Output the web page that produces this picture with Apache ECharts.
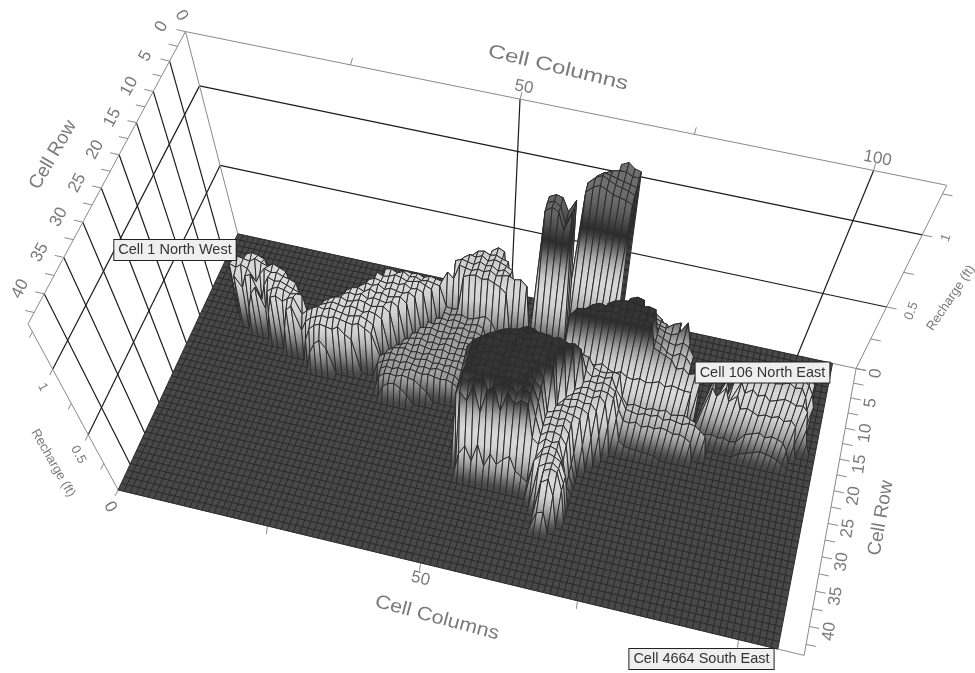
<!DOCTYPE html>
<html><head><meta charset="utf-8">
<style>html,body{margin:0;padding:0;background:#fff}#c{width:975px;height:673px}#c canvas{filter:blur(.4px)}</style>
<script src="https://cdn.jsdelivr.net/npm/echarts@6/dist/echarts.min.js"></script>
</head><body><div id="c"></div>
<script>
// ---- axis ticks ----
const colMajor = [50, 100];
const colMinor = [25, 75];
const rowMajor = [0, 5, 10, 15, 20, 25, 30, 35, 40];
const rowMinor = [2.5, 7.5, 12.5, 17.5, 22.5, 27.5, 32.5, 37.5, 42.5];
const zMajor = [0, 0.5, 1];
const zMinor = [0.25, 0.75, 1.25];
const cornerNotes = ['Cell 1 North West', 'Cell 106 North East', 'Cell 4664 South East'];
// ---- recharge in hundredths of a foot; each row lists runs [firstColumn, v, v, ...]; unlisted cells are 0 ----
const rechargeRows = [
/*0*/ [[65,105,107,104,103]],
/*1*/ [[63,102,104,105,105,103,103]],
/*2*/ [[62,103,106,105,104,103,102,101]],
/*3*/ [[47,44,47,45],[61,102,106,108,106,104,103,102,100]],
/*4*/ [[44,42,46,47,45,46,44,43],[61,100,104,106,104,102,101,100,98]],
/*5*/ [[43,44,47,46,48,45,47,46,44,42],[56,97,99,98,90,98]],
/*6*/ [[42,45,47,46,45,48,46,47,44,46,43],[56,97,99,96,86,97]],
/*7*/ [[33,33,34,33,34,32,34,33,32],[41,40,36,47,46,45,47,46,48,45,46,47,45,46,42],[56,96,99,97,86,98]],
/*8*/ [[31,37,38,36,38,35,36,34,35,34,33],[41,18,17,18,44,46,47,45,46,44,42,38]],
/*9*/ [[30,38,36,37,39,38,36,37,38,36,34],[41,18,17,18,19,17,18,20,22,18,10]],
/*10*/[[29,36,38,37,36,38,37,39,36,37,35],[40,17,18,17,19,18,17,18,19,17],[73,46,55,57,54,48]],
/*11*/[[9,40,42,41,39],[28,35,38,37,39,36,38,37,36,38,35],[39,18,17,19,18,17,18,19,17,18,16],[72,52,58,60,59,57,56,50]],
/*12*/[[7,38,42,41,40,43,41,39,42,40,38],[26,34,37,38,36,39,37,38,36,37,38,34],[38,17,18,19,17,18,17,19,18,17,18,16],[72,55,58,60,61,59,58,62,64],[92,42,48,50,49,51,48,50,47,45,40]],
/*13*/[[7,40,38,41,39,30,37,42,40,41,39,38,36],[25,33,36,38,37,39,36,38,37,36,38,35],[37,16,18,17,19,18,17,18,19,17,18,17,16],[71,78,80,79,60,58,62,60,59,61,70,56],[91,44,50,52,50,48,51,49,50,47,44,38,28]],
/*14*/[[8,36,28,38,40,22,34,41,39,40,38,36,34],[23,32,35,37,38,36,37,39,38,36,37,38,34],[36,15,17,18,19,17,18,17,19,18,17,18,17,15],[68,76,79,80,81,80,79,80,79,62,60,58,57,60,58,52],[89,40,46,46,44,46,47,45,46,48,45,46,40,30,14]],
/*15*/[[10,18,30,36,20,35,38,40,39,37,38,38],[22,30,34,36,38,37,36,38,37,35,37,36,33],[35,14,16,18,17,19,18,17,18,19,17,18,17,18,15],[65,74,78,80,79,81,80,79,80,81,79,66,62,60,56,54,57,55,50],[86,46,26,48,24,46,38,42,38,40,36,38,40,39,37,38,34,20,8]],
/*16*/[[14,22,36,38,35,38,40],[20,28,32,35,37,36,38,37,36,35,36,37,35,32],[34,14,17,18,19,17,18,17,19,18,17,18,17,18,16,14],[63,72,78,79,80,79,80,81,80,79,80,79,80,79,62,60,58,56,50,52,48,50,44],[86,42,36,44,34,40,30,32,30,28,30,29,31,28,30,26,10]],
/*17*/[[17,18,34,38],[20,20,28,32,34,36,35,37,36,35,34,36,33,30],[33,13,16,18,17,19,18,17,18,19,17,18,17,18,17,16,12],[62,50,52,48,50,46,44,45,47,44,42,44,41,40,42,40,41,43,40,42,41,40,40],[86,10,8,10,8,9,7,8,16,18,20,17,19,18,16,10]],
/*18*/[[21,18,28,32,34,33,32,35,30,27],[33,12,15,17,18,17,19,18,17,18,17,19,18,17,16,11],[60,56,58,60,62,60,58,56,55,48,46,46,48,47,30,24,26,25,24,26,25,27,24,25,26,24,22],[93,4,6,8,10,9,8,6,3]],
/*19*/[[22,14,22,26,20],[34,14,17,16,18,17,19,18,17,18,17,16,17,15,12],[59,66,68,70,66,68,65,64,62,50,46,48,47,49,40,34,26,25,24,26,25,27,24,26,25,24,26,25,22,18]],
/*20*/[[34,12,16,17,16,18,17,16,12,8],[57,76,78,77,74,75,72,74,72,73,70,46,48,47,49,47,44,30,22,21,23,20,22,21,23,22,20,21,19,16]],
/*21*/[[35,10,14,15,12,7],[54,76,78,79,80,78,79,81,80,79,80,78,76,44,47,48,46,48,47,44,28,10,6,5,5,4,4,3]],
/*22*/[[52,75,78,80,79,81,80,79,80,81,79,80,78,77,42,46,48,47,46,49,44,26]],
/*23*/[[50,70,76,79,80,81,79,80,78,80,79,81,80,79,78,40,46,47,48,46,47,42,22]],
/*24*/[[50,68,76,78,80,79,81,80,79,80,79,80,81,79,74,45,47,46,48,47,44,24]],
/*25*/[[50,66,75,78,79,81,80,78,80,81,79,80,78,70,44,46,48,47,46,44,22]],
/*26*/[[50,64,74,79,80,79,81,80,78,80,79,81,72,68,45,47,46,48,45,20]],
/*27*/[[50,62,75,78,80,81,79,80,79,81,80,78,74,62,44,47,46,48,42,16]],
/*28*/[[50,60,74,72,79,78,66,80,76,79,70,78,72,56,42,46,47,45,38,12]],
/*29*/[[51,68,62,76,55,74,78,60,76,68,72,70,44,40,46,44,46,30,8]],
/*30*/[[51,22,30,18,34,16,28,20,26,30,18,14,10,34,44,47,45,36,6]],
/*31*/[[63,38,44,47,45,42,30]],
/*32*/[[64,40,44,46,42,30]],
/*33*/[[65,44,47,45,30]],
/*34*/[[65,40,44,30]],
/*35*/[[65,18,20]],
/*36*/[],/*37*/[],/*38*/[],/*39*/[],/*40*/[],/*41*/[],/*42*/[],/*43*/[]
];
// ---- colour ramp by recharge ----
const rampZ = [0,.03,.08,.13,.2,.3,.4,.5,.58,.66,.72,.77,.82,.88,.97,1.05];
const rampGrey = [72,78,104,135,172,208,218,200,165,110,66,44,58,78,100,112];

// ---- camera calibration: axis-box corners, [col,row,recharge, screenX, screenY] ----
const BOX = {col:110, row:44, z:1.3};
const SURF = {col:106, row:44};
const calib = [
 [0,0,0,237,235],[110,0,0,856,369],[110,44,0,804,655],[0,44,0,118,490],
 [0,0,1.3,186,31],[110,0,1.3,947,185],[0,44,1.3,28,323],
 [0,0,.5,221,165],[0,0,1,200,85],[110,0,.5,887,308],[110,0,1,922,236],
 [0,44,.5,88,435],[0,44,1,53,370],[100,0,0,798,353],[100,0,1.3,874,170],
 [106,0,0,832,364],[106,44,0,778,649],[50,0,1.3,518,100]
];
function solve(A,b){const n=b.length;A=A.map((r,i)=>r.concat(b[i]));
 for(let i=0;i<n;i++){let p=i;for(let k=i+1;k<n;k++)if(Math.abs(A[k][i])>Math.abs(A[p][i]))p=k;
  [A[i],A[p]]=[A[p],A[i]];
  for(let k=i+1;k<n;k++){const f=A[k][i]/A[i][i];for(let j=i;j<=n;j++)A[k][j]-=f*A[i][j];}}
 const x=new Array(n);for(let i=n-1;i>=0;i--){let s=A[i][n];for(let j=i+1;j<n;j++)s-=A[i][j]*x[j];x[i]=s/A[i][i];}
 return x;}
const P=(function(){const N=Array.from({length:11},()=>new Array(11).fill(0)),B=new Array(11).fill(0);
 function add(r,t){for(let i=0;i<11;i++){B[i]+=r[i]*t;for(let j=0;j<11;j++)N[i][j]+=r[i]*r[j];}}
 calib.forEach(([c,r,z,u,v])=>{const X=c/100,Y=r/40,Z=z,U=u/1000,V=v/1000;
  add([X,Y,Z,1,0,0,0,0,-U*X,-U*Y,-U*Z],U);add([0,0,0,0,X,Y,Z,1,-V*X,-V*Y,-V*Z],V);});
 return solve(N,B);})();
function proj(c,r,z){const X=c/100,Y=r/40,w=P[8]*X+P[9]*Y+P[10]*z+1;
 return [1000*(P[0]*X+P[1]*Y+P[2]*z+P[3])/w,1000*(P[4]*X+P[5]*Y+P[6]*z+P[7])/w];}
// camera position, for back-to-front drawing
const cam=solve([[P[0],P[1],P[2]],[P[4],P[5],P[6]],[P[8],P[9],P[10]]],[-P[3],-P[7],-1]);
const camCol=cam[0]*100;

// ---- expand runs ----
const NC=106,NR=44;
const H=Array.from({length:NR},()=>new Array(NC).fill(0));
rechargeRows.forEach((runs,r)=>runs.forEach(run=>{for(let i=1;i<run.length;i++){const c=run[0]+i-1;if(c<NC)H[r][c]=run[i]/100;}}));
function grey(z){let i=0;while(i<rampZ.length-2&&z>rampZ[i+1])i++;
 const t=Math.max(0,Math.min(1,(z-rampZ[i])/(rampZ[i+1]-rampZ[i])));
 const g=Math.round(rampGrey[i]+t*(rampGrey[i+1]-rampGrey[i]));return 'rgb('+g+','+g+','+g+')';}
const quads=[];
for(let r=0;r<NR-1;r++){
 const cols=[];for(let c=0;c<NC-1;c++)cols.push(c);
 cols.sort((a,b)=>Math.abs(b-camCol)-Math.abs(a-camCol));
 cols.forEach(c=>quads.push([c,r,H[r][c],H[r][c+1],H[r+1][c+1],H[r+1][c]]));
}
const sx=SURF.col/(NC-1),sy=SURF.row/(NR-1);
function renderQuad(params,api){
 const c=api.value(0),r=api.value(1),z=[api.value(2),api.value(3),api.value(4),api.value(5)];
 const X=[c*sx,(c+1)*sx,(c+1)*sx,c*sx],Y=[r*sy,r*sy,(r+1)*sy,(r+1)*sy];
 const pts=z.map((v,i)=>proj(X[i],Y[i],v));
 const lo=Math.min.apply(null,z),hi=Math.max.apply(null,z);
 let fill;
 if(hi-lo<.025){fill=grey((lo+hi)/2);}
 else{
  const a=proj((c+.5)*sx,(r+.5)*sy,lo),b=proj((c+.5)*sx,(r+.5)*sy,hi),stops=[];
  const inner=rampZ.filter(v=>v>lo&&v<hi);
  [lo].concat(inner,[hi]).forEach(v=>stops.push({offset:(v-lo)/(hi-lo),color:grey(v)}));
  fill=new echarts.graphic.LinearGradient(a[0],a[1],b[0],b[1],stops,true);
 }
 return {type:'polygon',shape:{points:pts},silent:true,style:{fill:fill,stroke:'#2b2b2b',lineWidth:1}};
}
// ---- box lines and ticks ----
const GREY='#8a8a8a',INK='#1c1c1c',LAB='#7a7a7a';
const lines=[];
function L(a,b,col,w){lines.push([a,b,col,w]);}
colMajor.forEach(c=>L([c,0,0],[c,0,BOX.z],INK,1.2));
[.5,1].forEach(z=>{L([0,0,z],[BOX.col,0,z],INK,1.2);L([0,0,z],[0,BOX.row,z],INK,1.2);});
rowMajor.filter(r=>r>0).forEach(r=>L([0,r,0],[0,r,BOX.z],INK,1.2));
L([0,0,0],[0,0,BOX.z],GREY,1);L([0,0,BOX.z],[BOX.col,0,BOX.z],GREY,1);L([0,0,BOX.z],[0,BOX.row,BOX.z],GREY,1);
L([0,BOX.row,0],[0,BOX.row,BOX.z],GREY,1);L([BOX.col,0,0],[BOX.col,0,BOX.z],GREY,1);
L([0,0,0],[BOX.col,0,0],GREY,1);L([BOX.col,0,0],[BOX.col,BOX.row,0],GREY,1);L([0,BOX.row,0],[BOX.col,BOX.row,0],GREY,1);
const ticks=[];
rowMajor.concat(rowMinor).forEach(r=>{ticks.push([[0,r,BOX.z],[-9,-2]]);ticks.push([[BOX.col,r,0],[10,2]]);});
zMajor.concat(zMinor).forEach(z=>{ticks.push([[BOX.col,0,z],[10,2]]);ticks.push([[0,BOX.row,z],[-3,6]]);});
colMajor.concat(colMinor).forEach(c=>{ticks.push([[c,0,BOX.z],[2,-7]]);ticks.push([[c,BOX.row,0],[-1,8]]);});
function renderLine(params,api){
 const l=lines[api.value(0)],a=proj.apply(null,l[0]),b=proj.apply(null,l[1]);
 return {type:'line',silent:true,shape:{x1:a[0],y1:a[1],x2:b[0],y2:b[1]},style:{stroke:l[2],lineWidth:l[3]}};
}
function renderTick(params,api){
 const t=ticks[api.value(0)],a=proj.apply(null,t[0]);
 return {type:'line',silent:true,shape:{x1:a[0],y1:a[1],x2:a[0]+t[1][0],y2:a[1]+t[1][1]},style:{stroke:GREY,lineWidth:1}};
}
// ---- text ----
const texts=[];
const deg=Math.PI/180;
function T(p,off,s,rot,font,col){const a=proj.apply(null,p);texts.push({x:a[0]+off[0],y:a[1]+off[1],s:s,rot:rot*deg,font:font,col:col||LAB,sx:1});}
const F1='17px "Liberation Sans"',F2='19px "Liberation Sans"';
const N1='13px "Liberation Sans Narrow","Liberation Sans"';
rowMajor.forEach(r=>{T([0,r,BOX.z],[-24,-5],String(r),62,F1);});
rowMajor.forEach(r=>{T([BOX.col,r,0],[20,5],String(r),82,F1);});
T([0,0,BOX.z],[-4,-16],'0',-60,F1);
colMajor.forEach(c=>T([c,0,BOX.z],[4,-12],String(c),-11,F1));
T([50,BOX.row,0],[0,16],'50',-13,F1);
T([0,BOX.row,1],[-10,18],'1',-62,N1);T([0,BOX.row,.5],[-10,20],'0.5',-62,N1);T([0,BOX.row,0],[-8,17],'0',-62,F1);
T([BOX.col,0,.5],[25,4],'0.5',70,N1);T([BOX.col,0,1],[24,3],'1',70,N1);
const staticTexts=[
 {x:558,y:68,s:'Cell Columns',rot:-13.5*deg,font:F2,col:LAB,sx:1.27},
 {x:437,y:618,s:'Cell Columns',rot:-15*deg,font:F2,col:LAB,sx:1.13},
 {x:53,y:155,s:'Cell Row',rot:60*deg,font:F2,col:LAB,sx:1},
 {x:881,y:518,s:'Cell Row',rot:80*deg,font:F2,col:LAB,sx:1},
 {x:53,y:463,s:'Recharge (ft)',rot:-60*deg,font:N1,col:LAB,sx:1},
 {x:951,y:298,s:'Recharge (ft)',rot:56*deg,font:N1,col:LAB,sx:1}
];
const allTexts=texts.concat(staticTexts);
function renderText(params,api){
 const t=allTexts[api.value(0)];
 return {type:'text',silent:true,x:t.x,y:t.y,rotation:t.rot,scaleX:t.sx,style:{text:t.s,fill:t.col,font:t.font,align:'center',verticalAlign:'middle'}};
}
const notePos=[[175,250],[762.5,372.5],[701.5,659]];
function renderNote(params,api){
 const i=api.value(0);
 return {type:'text',silent:true,x:notePos[i][0],y:notePos[i][1],style:{text:cornerNotes[i],fill:'#333',font:'14.5px "Liberation Sans"',align:'center',verticalAlign:'middle',backgroundColor:'#efefef',borderColor:'#222',borderWidth:1,padding:[3,4,2,4]}};
}
const idx=n=>Array.from({length:n},(_,i)=>[i]);
const chart=echarts.init(document.getElementById('c'),null,{renderer:'canvas'});
chart.setOption({
 animation:false,backgroundColor:'#fff',
 series:[
  {type:'custom',coordinateSystem:'none',renderItem:renderLine,data:idx(lines.length),z:1,silent:true,progressive:0,animation:false},
  {type:'custom',coordinateSystem:'none',renderItem:renderTick,data:idx(ticks.length),z:1,silent:true,progressive:0,animation:false},
  {type:'custom',coordinateSystem:'none',renderItem:renderQuad,data:quads,dimensions:['c','r','a','b','d','e'],z:2,silent:true,progressive:0,animation:false},
  {type:'custom',coordinateSystem:'none',renderItem:renderText,data:idx(allTexts.length),z:3,silent:true,progressive:0,animation:false},
  {type:'custom',coordinateSystem:'none',renderItem:renderNote,data:idx(3),z:4,silent:true,progressive:0,animation:false}
 ]
});
</script></body></html>
